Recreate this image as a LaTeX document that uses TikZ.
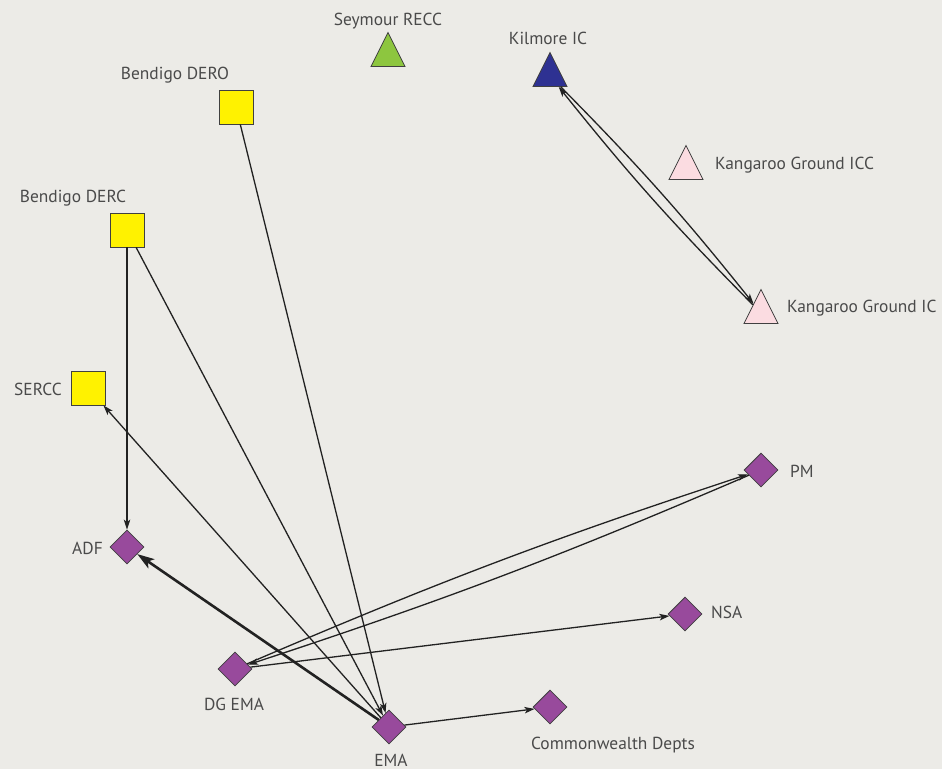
\documentclass[tikz,border=0pt]{standalone}
\usepackage{fontspec}
\setmainfont{PT Sans}
\usetikzlibrary{arrows.meta,shapes.geometric}
\definecolor{bgcol}{HTML}{ECEBE7}
\definecolor{linecol}{HTML}{222222}
\definecolor{textcol}{HTML}{4A4A4A}
\definecolor{sqyellow}{HTML}{FFF200}
\definecolor{trigreen}{HTML}{8DC63F}
\definecolor{trinavy}{HTML}{2E3192}
\definecolor{tripink}{HTML}{FBDCE1}
\definecolor{dmpurple}{HTML}{984A9C}
\tikzset{
  sq/.style={draw=black!75, line width=0.8pt, fill=sqyellow, rectangle, minimum size=34pt, inner sep=0pt},
  tri/.style={draw=black!75, line width=0.8pt, isosceles triangle, isosceles triangle stretches, shape border rotate=90, minimum width=34pt, minimum height=34pt, inner sep=0pt},
  dm/.style={draw=black!75, line width=0.8pt, fill=dmpurple, diamond, minimum size=34pt, inner sep=0pt},
  lbl/.style={text=textcol, font=\fontsize{17.4}{19}\selectfont, inner sep=0pt, text height=12.2pt, text depth=0pt},
  link/.style={draw=linecol, line width=1.3pt, -{Stealth[length=10pt,width=6.5pt,inset=2.5pt]}},
  biglink/.style={draw=linecol, line width=2.6pt, -{Stealth[length=17pt,width=11pt,inset=4pt]}}
}

\begin{document}
\begin{tikzpicture}[x=1pt,y=-1pt]
		%%%%% START %%%%%
		\fill[bgcol] (0,0) rectangle (942,769);
		\useasboundingbox (0,0) rectangle (942,769);
		
		% triangles
		\node[tri, fill=trigreen] (seymour) at (388,56) {};
		\node[tri, fill=trinavy] (kilmore) at (550,76) {};
		\node[tri, fill=tripink] (kgicc) at (686,169) {};
		\node[tri, fill=tripink] (kgic) at (761,313) {};
		
		% squares
		\node[sq] (dero) at (236,107) {};
		\node[sq] (derc) at (127,230) {};
		\node[sq] (sercc) at (88,388) {};
		
		% diamonds
		\node[dm] (pm) at (761,470) {};
		\node[dm] (adf) at (127,547) {};
		\node[dm] (nsa) at (685,614) {};
		\node[dm] (dgema) at (235,669) {};
		\node[dm] (cwd) at (550,707) {};
		\node[dm] (ema) at (389,727) {};
		
		% labels
		\node[lbl] (seymourlbl) at (388,19) {Seymour RECC};
		\node[lbl] (kilmorelbl) at (548,38) {Kilmore IC};
		\node[lbl] (derolbl) at (175,73) {Bendigo DERO};
		\node[lbl, anchor=west] (kgicclbl) at (715,163) {Kangaroo Ground ICC};
		\node[lbl] (dercl) at (73,196) {Bendigo DERC};
		\node[lbl, anchor=west] (kgiclbl) at (787,306) {Kangaroo Ground IC};
		\node[lbl, anchor=east] (sercclbl) at (62,389) {SERCC};
		\node[lbl, anchor=west] (pmlbl) at (790,471) {PM};
		\node[lbl, anchor=east] (adflbl) at (103,548) {ADF};
		\node[lbl, anchor=west] (nsalbl) at (711,612) {NSA};
		\node[lbl] (dgemalbl) at (234,704) {DG EMA};
		\node[lbl] (cwdlbl) at (613,743) {Commonwealth Depts};
		\node[lbl] (emalbl) at (391,760) {EMA};
		
		% links
		\draw[link] (derc) -- (adf);
		\draw[link] (derc) -- (ema);
		\draw[link] (dero) -- (ema);
		\draw[link] (ema) -- (sercc);
		\draw[biglink] (ema) -- (adf);
		\draw[link] (ema) -- (cwd);
		\draw[link] (dgema) -- (nsa);
		\draw[link] (dgema) to[bend left=2.5] (pm);
		\draw[link] (pm) to[bend left=2.5] (dgema);
		\draw[link] (kilmore) to[bend left=3] (kgic);
		\draw[link] (kgic) to[bend left=3] (kilmore);
		
		%%%%% END %%%%%
	\end{tikzpicture}
\end{document}
